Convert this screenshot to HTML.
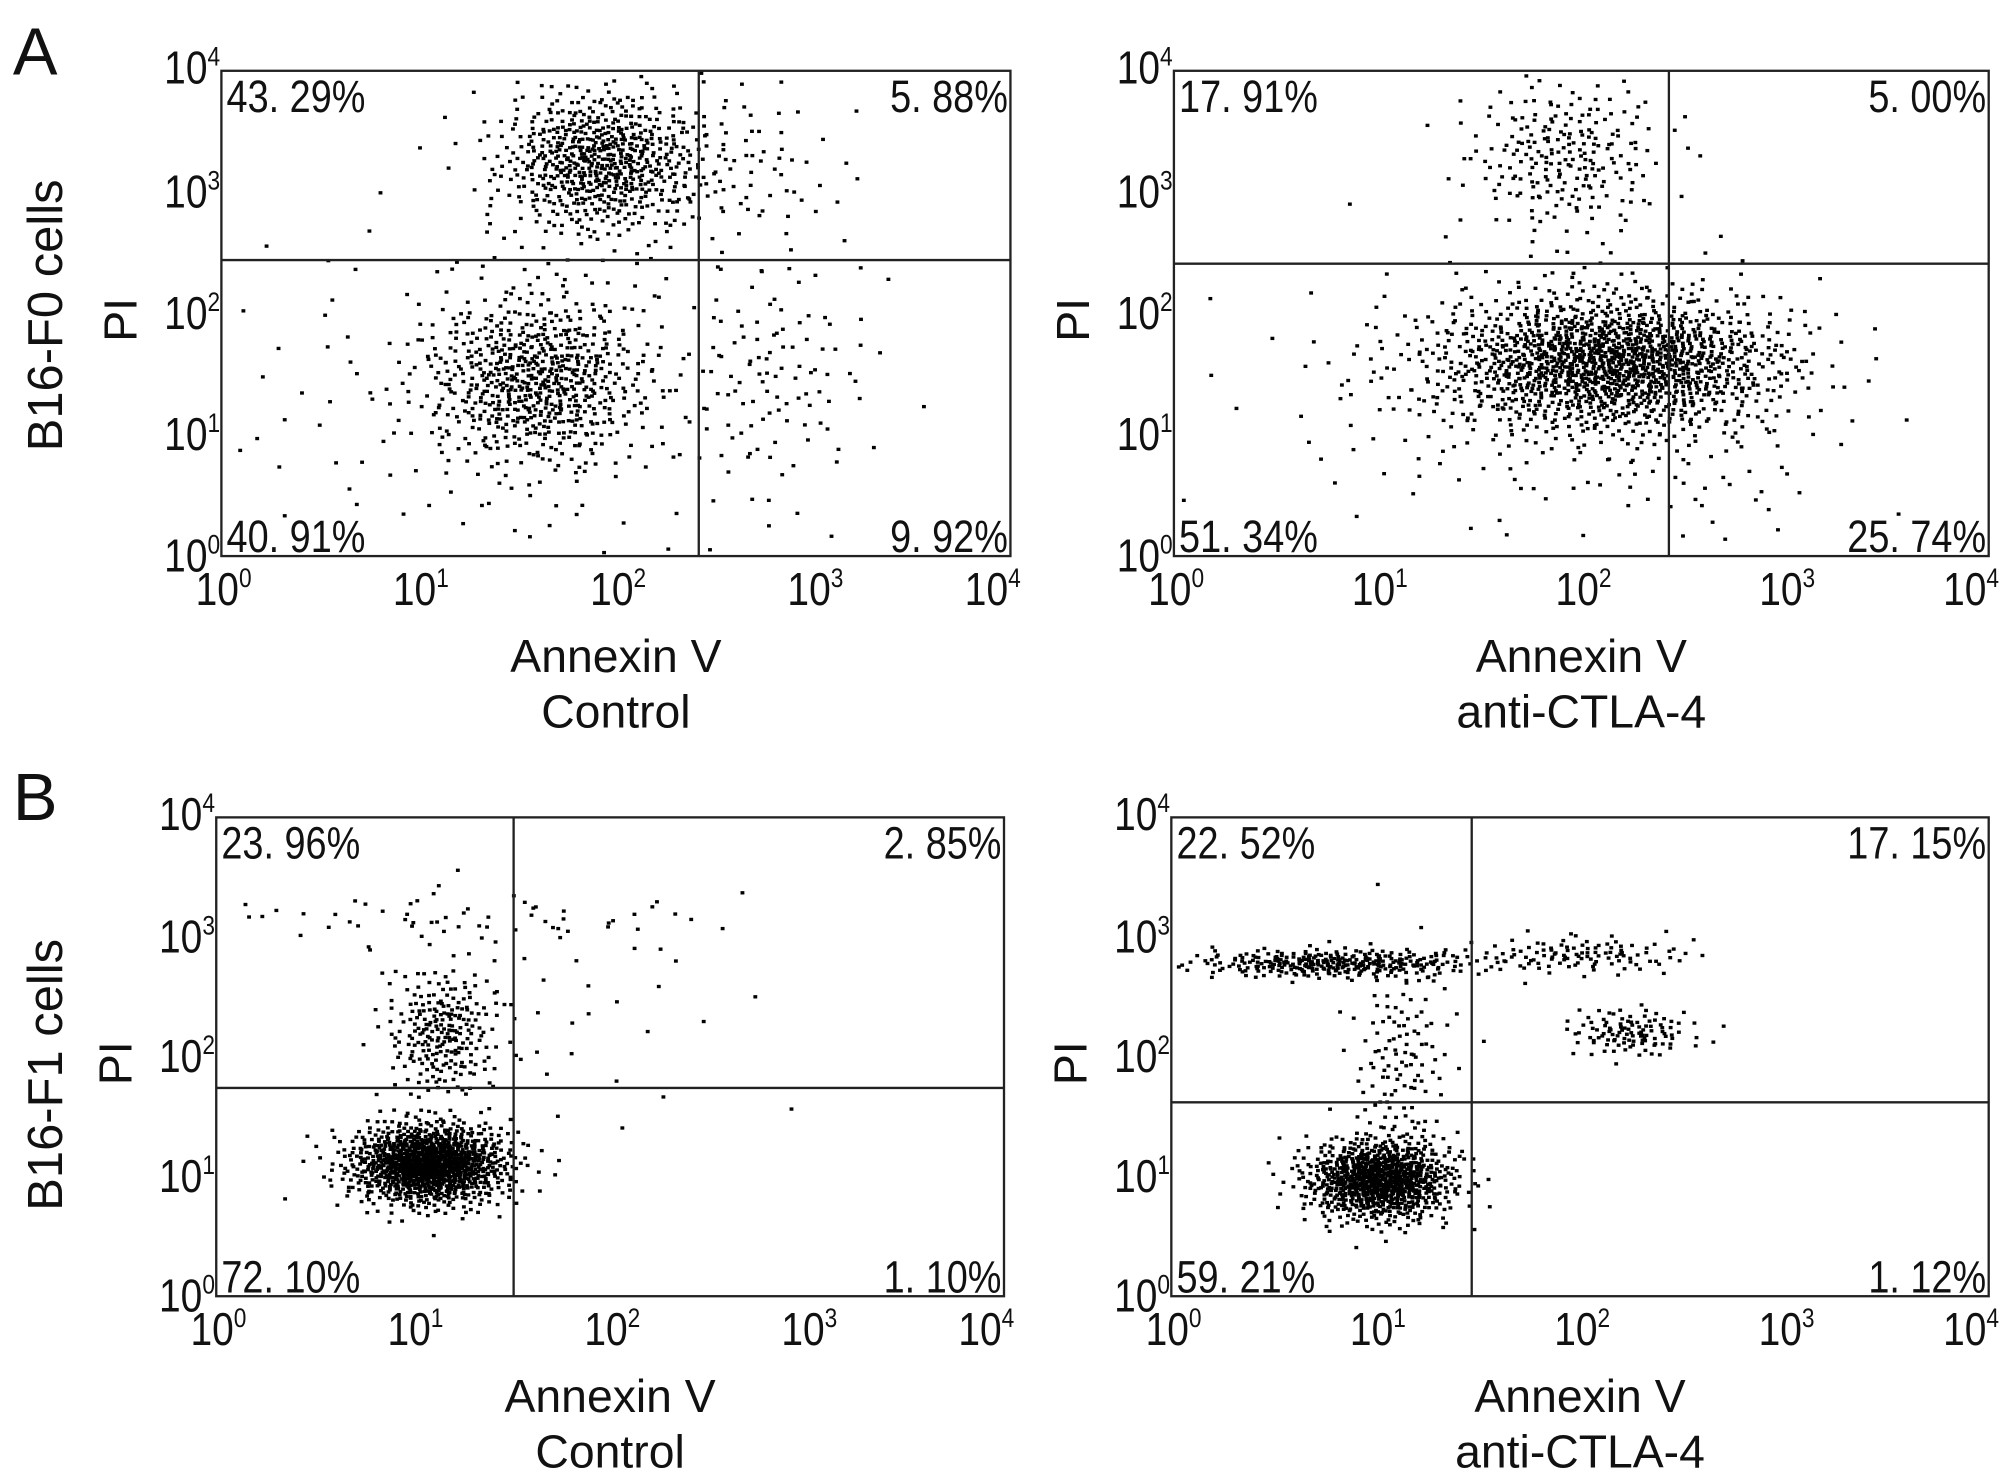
<!DOCTYPE html>
<html><head><meta charset="utf-8">
<style>
html,body{margin:0;padding:0;background:#fff;}
svg{display:block;}
text{font-family:"Liberation Sans",sans-serif;fill:#111;}
</style></head>
<body>
<svg id="fig" width="2008" height="1479" viewBox="0 0 1560 1149" preserveAspectRatio="none" xmlns="http://www.w3.org/2000/svg">
<rect width="1560" height="1149" fill="#fff"/>
<text x="10" y="58" font-size="52">A</text>
<text x="10" y="637" font-size="52">B</text>
<text transform="translate(48,245) rotate(-90)" text-anchor="middle" font-size="38">B16-F0 cells</text>
<text transform="translate(48,835) rotate(-90)" text-anchor="middle" font-size="38">B16-F1 cells</text>
<g id="panels"></g>
</svg>
<script>
// Panel layout (display frame px)
const panelFrames = [[172,55,785,432],[912,55,1545,432],[168,635,780,1007],[910,635,1545,1007]];
const panelNames = ["b16-f0-control","b16-f0-anti-ctla4","b16-f1-control","b16-f1-anti-ctla4"];
const conditionLabels = ["Control","anti-CTLA-4","Control","anti-CTLA-4"];
// Quadrant gates (log10 units): [x gate, y gate]
const gateX = [2.42, 2.43, 1.51, 1.47];
const gateY = [2.44, 2.41, 1.74, 1.62];
// Quadrant percentages [UL, UR, LL, LR]
const quadUL = ["43. 29%","17. 91%","23. 96%","22. 52%"];
const quadUR = ["5. 88%","5. 00%","2. 85%","17. 15%"];
const quadLL = ["40. 91%","51. 34%","72. 10%","59. 21%"];
const quadLR = ["9. 92%","25. 74%","1. 10%","1. 12%"];
const tickExps = ["0","1","2","3","4"];
// Event populations per panel (log10 units): [centerX, centerY, sdX, sdY, count]
const popA1 = [[1.92,3.25,0.26,0.30,650],[1.6,1.45,0.28,0.36,650],[1.4,1.3,0.8,0.8,150],[2.8,1.5,0.25,0.5,100],[2.6,3.2,0.3,0.35,80]];
const popA2 = [[2.15,1.6,0.42,0.28,1400],[1.92,3.3,0.24,0.32,230],[1.7,1.4,0.6,0.55,200],[2.6,1.0,0.35,0.6,80]];
const popB1 = [[1.08,1.1,0.2,0.17,1150],[1.15,2.2,0.14,0.27,230],[1.2,3.15,0.7,0.12,60],[1.7,2.4,0.5,0.5,40]];
const popB2 = [[1.02,0.97,0.18,0.17,900],[0.8,2.78,0.35,0.06,320],[2.0,2.85,0.28,0.08,110],[2.25,2.2,0.16,0.1,110],[1.12,2.0,0.12,0.45,120]];
const panelPops = [popA1,popA2,popB1,popB2];

const NS="http://www.w3.org/2000/svg";
const root=document.getElementById('panels');
function mk(tag,attrs,parent){const e=document.createElementNS(NS,tag);for(const k in attrs)e.setAttribute(k,attrs[k]);(parent||root).appendChild(e);return e;}
function halton(i,b){let f=1,r=0;while(i>0){f/=b;r+=f*(i%b);i=Math.floor(i/b);}return r;}
const SQ='scale(0.84,1)';

panelFrames.forEach((f,p)=>{
  const [x0,y0,x1,y1]=f;
  const sx=v=>x0+(x1-x0)*v/4, sy=v=>y1-(y1-y0)*v/4;
  const g=mk('g',{});
  
  
  const dots=mk('g',{fill:'#000'},g);
  
  
  let idx=1+p*5000;
  panelPops[p].forEach(pop=>{
    const [cx,cy,dx,dy,n]=pop;
    for(let i=0;i<n;i++,idx++){
      const u1=Math.max(1e-6,halton(idx,2)),u2=halton(idx,3);
      const r=Math.sqrt(-2*Math.log(u1));
      const lx=cx+dx*r*Math.cos(2*Math.PI*u2), ly=cy+dy*r*Math.sin(2*Math.PI*u2);
      if(lx<0.02||lx>3.98||ly<0.02||ly>3.98)continue;
      const d=mk('rect',{x:(sx(lx)-1.5).toFixed(1),y:(sy(ly)-1.3).toFixed(1),width:3,height:2.6},dots);
      
      
    }
  });
  const fr=mk('rect',{x:x0,y:y0,width:x1-x0,height:y1-y0,fill:'none',stroke:'#222','stroke-width':1.8},g);
  
  
  const gv=mk('line',{x1:sx(gateX[p]),x2:sx(gateX[p]),y1:y0,y2:y1,stroke:'#222','stroke-width':1.8},g);
  
  
  const gh=mk('line',{x1:x0,x2:x1,y1:sy(gateY[p]),y2:sy(gateY[p]),stroke:'#222','stroke-width':1.8},g);
  
  
  const q=[[quadUL[p],x0+4,y0+32,'start','ul'],[quadUR[p],x1-2,y0+32,'end','ur'],[quadLL[p],x0+4,y1-3,'start','ll'],[quadLR[p],x1-2,y1-3,'end','lr']];
  q.forEach(([t,x,y,a,n])=>{const e=mk('text',{transform:'translate('+x+','+y+') '+SQ,'text-anchor':a,'font-size':35},g);e.textContent=t;
    
    });
  tickExps.forEach((ex,i)=>{
    let tx0=sx(i)-20, anch='start';
    if(i==4){tx0=x1+8;anch='end';}
    const tx=mk('text',{transform:'translate('+tx0+','+(y1+38)+') '+SQ,'text-anchor':anch,'font-size':36},g);
    
    
    tx.innerHTML='10<tspan dy="-14" font-size="21">'+ex+'</tspan>';
    const yy=sy(i)+(i==0?12:i==4?10:12);
    const ty=mk('text',{transform:'translate('+(x0-1)+','+yy+') '+SQ,'text-anchor':'end','font-size':36},g);
    
    
    ty.innerHTML='10<tspan dy="-14" font-size="21">'+ex+'</tspan>';
  });
  const xt=mk('text',{x:(x0+x1)/2,y:y1+90,'text-anchor':'middle','font-size':36},g);
  xt.textContent='Annexin V';
  
  
  const ct=mk('text',{x:(x0+x1)/2,y:y1+133,'text-anchor':'middle','font-size':36},g);
  ct.textContent=conditionLabels[p];
  
  
  const yt=mk('text',{transform:'translate('+(x0-66)+','+((y0+y1)/2+5)+') rotate(-90)','text-anchor':'middle','font-size':36},g);
  yt.textContent='PI';
  
  
});
</script>
</body></html>
